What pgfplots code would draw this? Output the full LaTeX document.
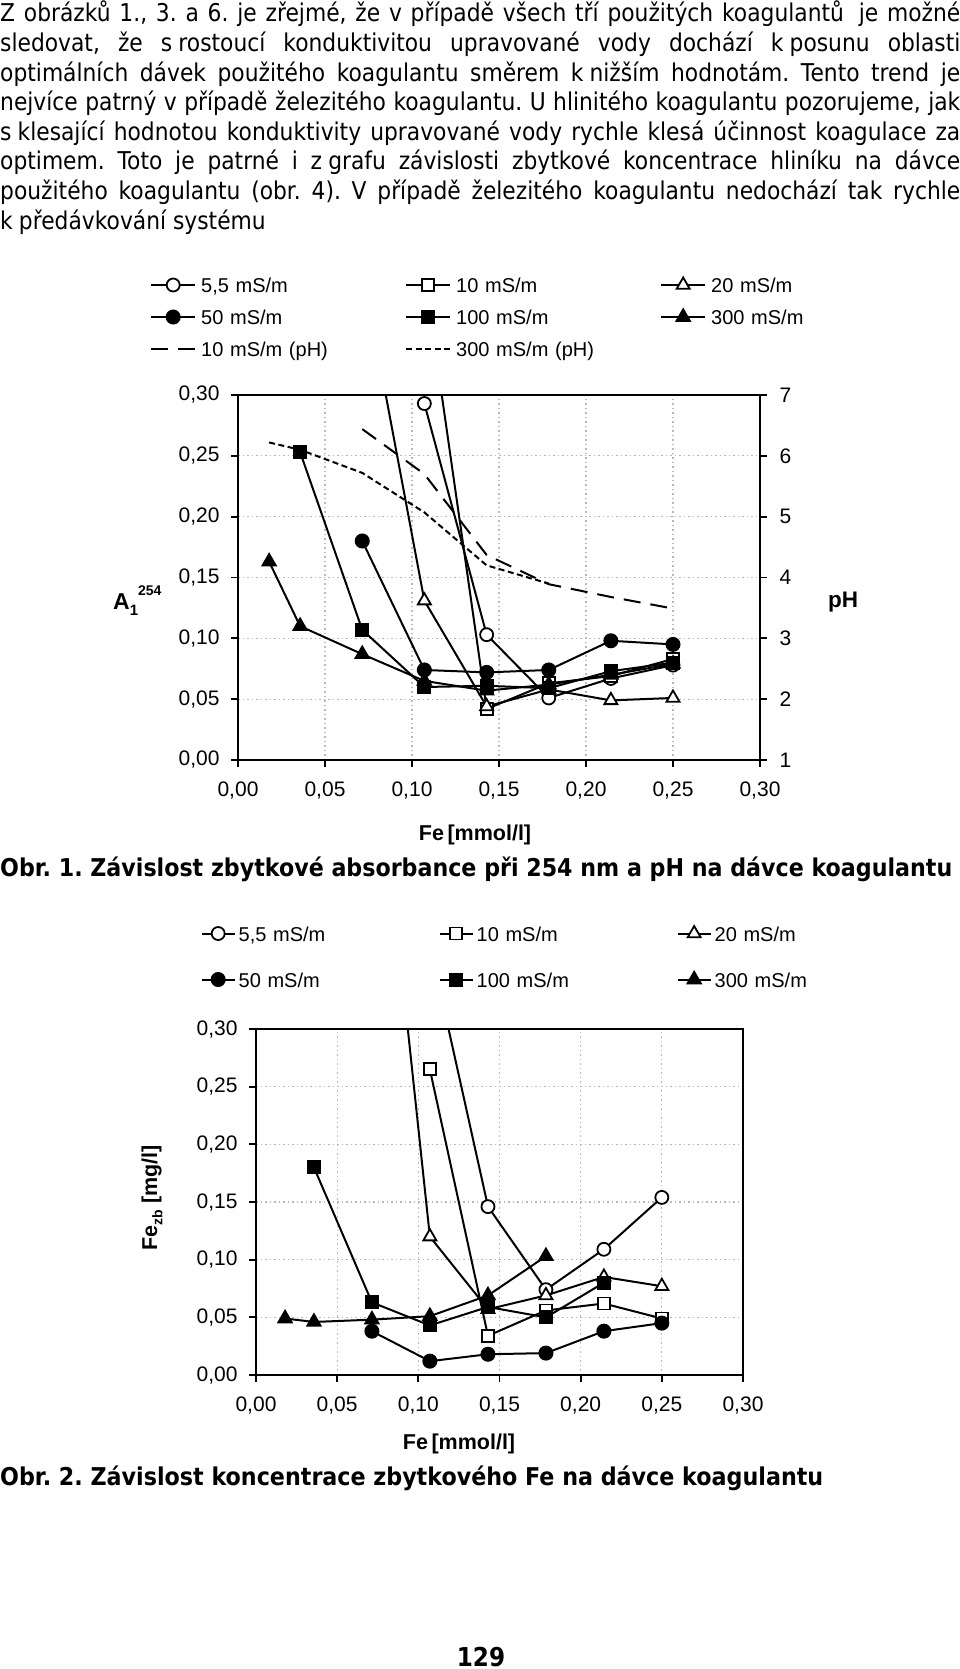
\documentclass[border=0pt]{standalone}
\usepackage{pgfplots}
\pgfplotsset{compat=1.18}
\usepackage{fontspec}
\usepackage{graphicx}
\setmainfont{Liberation Sans}
\newfontfamily\tahoma[FakeStretch=0.89]{DejaVu Sans}
\newcommand\bodyfont{\tahoma\fontsize{24.5}{29.6}\selectfont\frenchspacing}
\newcommand\tickfont{\fontsize{21}{21}\selectfont}
\newcommand\legfont{\fontsize{20}{20}\selectfont}
\newcommand\labfont{\fontsize{21.5}{21.5}\selectfont\bfseries}
\newcommand\bodyline[1]{\makebox[960pt][s]{#1}}

\pgfplotsset{
  common/.style={
    scale only axis,
    xmin=0, xmax=0.30, ymin=0, ymax=0.30,
    xtick={0,0.05,0.10,0.15,0.20,0.25,0.30},
    ytick={0,0.05,0.10,0.15,0.20,0.25,0.30},
    xtick pos=bottom, ytick pos=left,
    tick label style={font=\tickfont},
    /pgf/number format/fixed,
    /pgf/number format/fixed zerofill,
    /pgf/number format/precision=2,
    /pgf/number format/use comma,
    /pgf/number format/assume math mode=true,
    axis line style={line width=2.2pt},
    tick style={line width=1.8pt, black},
    major tick length=7pt,
    tick align=outside,
    yticklabel style={xshift=-8pt},
    xticklabel style={yshift=-11pt},
    grid=major,
    major grid style={gray!55, line width=1.3pt, dash pattern=on 1.5pt off 3pt},
    legend columns=3,
    legend cell align=left,
  },
  sA/.style={black, line width=2pt, mark=*, mark size=6.5pt, mark options={solid, fill=white, line width=1.8pt}},
  sB/.style={black, line width=2pt, mark=square*, mark size=6pt, mark options={solid, fill=white, line width=1.8pt}},
  sC/.style={black, line width=2pt, mark=triangle*, mark size=7.5pt, mark options={solid, fill=white, line width=1.8pt}},
  sD/.style={black, line width=2pt, mark=*, mark size=6.5pt, mark options={solid, fill=black}},
  sE/.style={black, line width=2pt, mark=square*, mark size=6pt, mark options={solid, fill=black}},
  sF/.style={black, line width=2pt, mark=triangle*, mark size=7.5pt, mark options={solid, fill=black}},
}

\begin{document}
\begin{tikzpicture}
\useasboundingbox (0pt,0pt) rectangle (960pt,-1669pt);
\fill[white] (0pt,0pt) rectangle (960pt,-1669pt);

% body text
\begin{scope}[every node/.style={anchor=base west, inner sep=0pt, font=\bodyfont}]
\node at (0pt,-22pt) {\bodyline{Z obrázků 1., 3. a 6. je zřejmé, že v případě všech tří použitých koagulantů\hspace{6pt} je možné}};
\node at (0pt,-51.6pt) {\bodyline{sledovat, že s\hspace{.25em}rostoucí konduktivitou upravované vody dochází k\hspace{.25em}posunu oblasti}};
\node at (0pt,-81.2pt) {\bodyline{optimálních dávek použitého koagulantu směrem k\hspace{.25em}nižším hodnotám. Tento trend je}};
\node at (0pt,-110.8pt) {\bodyline{nejvíce patrný v případě železitého koagulantu. U hlinitého koagulantu pozorujeme, jak}};
\node at (0pt,-140.4pt) {\bodyline{s\hspace{.25em}klesající hodnotou konduktivity upravované vody rychle klesá účinnost koagulace za}};
\node at (0pt,-170pt) {\bodyline{optimem. Toto je patrné i z\hspace{.25em}grafu závislosti zbytkové koncentrace hliníku na dávce}};
\node at (0pt,-199.6pt) {\bodyline{použitého koagulantu (obr. 4). V případě železitého koagulantu nedochází tak rychle}};
\node at (0pt,-229.2pt) {k\hspace{.25em}předávkování systému};
\end{scope}

% ---------- Chart 1 ----------
\begin{axis}[common,
  at={(238pt,-760pt)}, anchor=south west, width=522pt, height=365pt,
  legend style={at={(-0.1686,1.2137)}, anchor=west, draw=none, fill=none, inner sep=0pt,
    font=\legfont, row sep=17pt,
    nodes={inner sep=0pt, text height=15pt, text depth=0pt, text width=204pt, anchor=west, align=left},
    /tikz/every odd column/.append style={column sep=5pt}},
  legend image code/.code={\draw[mark repeat=2,mark phase=2,#1] plot coordinates {(0pt,0pt) (22pt,0pt) (44pt,0pt)};},
]
\addplot[sA] coordinates {(0.1071,0.293) (0.1429,0.103) (0.1786,0.051) (0.2143,0.067) (0.25,0.078)};
\addlegendentry{5,5 mS/m}
\addplot[sB] coordinates {(0.1071,0.40) (0.1429,0.042) (0.1786,0.063) (0.2143,0.069) (0.25,0.083)};
\addlegendentry{10 mS/m}
\addplot[sC] coordinates {(0.0714,0.403) (0.1071,0.131) (0.1429,0.044) (0.1786,0.058) (0.2143,0.049) (0.25,0.051)};
\addlegendentry{20 mS/m}
\addplot[sD] coordinates {(0.0714,0.180) (0.1071,0.074) (0.1429,0.072) (0.1786,0.074) (0.2143,0.098) (0.25,0.095)};
\addlegendentry{50 mS/m}
\addplot[sE] coordinates {(0.0357,0.253) (0.0714,0.107) (0.1071,0.060) (0.1429,0.061) (0.1786,0.059) (0.2143,0.073) (0.25,0.080)};
\addlegendentry{100 mS/m}
\addplot[sF] coordinates {(0.0179,0.163) (0.0357,0.110) (0.0714,0.087) (0.1071,0.065) (0.1429,0.057) (0.1786,0.062) (0.2143,0.070) (0.25,0.079)};
\addlegendentry{300 mS/m}
\addlegendimage{black, line width=2pt, dash pattern=on 17pt off 10pt}
\addlegendentry{10 mS/m (pH)}
\addlegendimage{black, line width=2pt, dash pattern=on 6pt off 3.5pt}
\addlegendentry{300 mS/m (pH)}
\end{axis}

\begin{axis}[scale only axis,
  at={(238pt,-760pt)}, anchor=south west, width=522pt, height=365pt,
  xmin=0, xmax=0.30, ymin=1, ymax=7,
  axis x line=none, axis y line*=right,
  ytick={1,2,3,4,5,6,7},
  tick label style={font=\tickfont},
  /pgf/number format/assume math mode=true,
  axis line style={line width=2.2pt},
  tick style={line width=1.8pt, black},
  major tick length=7pt, tick align=outside,
  yticklabel style={xshift=9pt},
]
\addplot[black, line width=2pt, dash pattern=on 17pt off 10pt] coordinates {(0.0714,6.44) (0.1071,5.70) (0.1429,4.37) (0.1786,3.89) (0.2143,3.68) (0.25,3.49)};
\addplot[black, line width=2pt, dash pattern=on 6pt off 3.5pt] coordinates {(0.0179,6.22) (0.0357,6.10) (0.0714,5.72) (0.1071,5.07) (0.1429,4.20) (0.1786,3.90)};
\end{axis}

\node[anchor=base west, inner sep=0pt, font=\labfont] at (113pt,-609pt) {\fontsize{23}{23}\selectfont A\raisebox{-0.3em}{\fontsize{15}{15}\selectfont 1}\raisebox{0.6em}{\fontsize{14}{14}\selectfont 254}};
\node[anchor=base west, inner sep=0pt, font=\labfont] at (828pt,-607pt) {\fontsize{22.5}{22.5}\selectfont pH};
\node[anchor=base, inner sep=0pt, font=\labfont] at (475pt,-840pt) {Fe\,[mmol/l]};
\node[anchor=base west, inner sep=0pt] at (0pt,-876pt) {\resizebox{952pt}{\height}{\tahoma\bfseries\fontsize{24.5}{24.5}\selectfont\frenchspacing Obr. 1. Závislost zbytkové absorbance při 254 nm a pH na dávce koagulantu}};

% ---------- Chart 2 ----------
\begin{axis}[common,
  at={(256pt,-1375pt)}, anchor=south west, width=487pt, height=346pt,
  legend style={at={(-0.114,1.2095)}, anchor=west, draw=none, fill=none, inner sep=0pt,
    font=\legfont, row sep=31pt,
    nodes={inner sep=0pt, text height=15pt, text depth=0pt, text width=200pt, anchor=west, align=left},
    /tikz/every odd column/.append style={column sep=3pt}},
  legend image code/.code={\draw[mark repeat=2,mark phase=2,#1] plot coordinates {(0pt,0pt) (16.5pt,0pt) (33pt,0pt)};},
]
\addplot[sA] coordinates {(0.1071,0.373) (0.1429,0.146) (0.1786,0.074) (0.2143,0.109) (0.25,0.154)};
\addlegendentry{5,5 mS/m}
\addplot[sB] coordinates {(0.1071,0.265) (0.1429,0.034) (0.1786,0.056) (0.2143,0.062) (0.25,0.049)};
\addlegendentry{10 mS/m}
\addplot[sC] coordinates {(0.0714,0.593) (0.1071,0.120) (0.1429,0.057) (0.1786,0.069) (0.2143,0.085) (0.25,0.077)};
\addlegendentry{20 mS/m}
\addplot[sD] coordinates {(0.0714,0.038) (0.1071,0.012) (0.1429,0.018) (0.1786,0.019) (0.2143,0.038) (0.25,0.045)};
\addlegendentry{50 mS/m}
\addplot[sE] coordinates {(0.0357,0.180) (0.0714,0.063) (0.1071,0.043) (0.1429,0.059) (0.1786,0.050) (0.2143,0.080)};
\addlegendentry{100 mS/m}
\addplot[sF] coordinates {(0.0179,0.049) (0.0357,0.046) (0.0714,0.048) (0.1071,0.051) (0.1429,0.069) (0.1786,0.103)};
\addlegendentry{300 mS/m}
\end{axis}

\node[rotate=90, inner sep=0pt, font=\labfont] at (152pt,-1198pt) {Fe\raisebox{-0.25em}{\fontsize{14}{14}\selectfont zb} [mg/l]};
\node[anchor=base, inner sep=0pt, font=\labfont] at (459pt,-1449pt) {Fe\,[mmol/l]};
\node[anchor=base west, inner sep=0pt] at (0pt,-1485pt) {\resizebox{823pt}{\height}{\tahoma\bfseries\fontsize{24.5}{24.5}\selectfont\frenchspacing Obr. 2. Závislost koncentrace zbytkového Fe na dávce koagulantu}};
\node[anchor=base, inner sep=0pt] at (481pt,-1666pt) {\tahoma\bfseries\fontsize{26}{26}\selectfont 129};
\end{tikzpicture}
\end{document}
